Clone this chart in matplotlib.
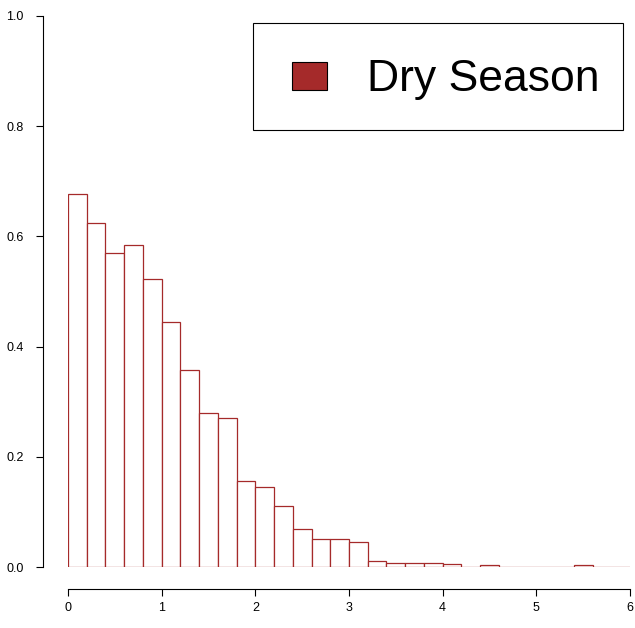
import numpy as np
import matplotlib
matplotlib.use("Agg")
import matplotlib.pyplot as plt
from matplotlib.patches import Patch, Rectangle
from matplotlib.legend_handler import HandlerPatch

plt.rcParams['font.family'] = ['Liberation Sans', 'DejaVu Sans']

# histogram of the dry season, bins of width 0.2 from 0 to 6
bin_edges = np.round(np.arange(0, 6.01, 0.2), 2)
density = [0.677, 0.624, 0.570, 0.584, 0.523, 0.445, 0.358, 0.279, 0.270, 0.156,
           0.145, 0.111, 0.069, 0.051, 0.051, 0.045, 0.011, 0.007, 0.007, 0.007,
           0.005, 0.0, 0.003, 0.0, 0.0, 0.0, 0.0, 0.003, 0.0, 0.0]
x_ticks = [0, 1, 2, 3, 4, 5, 6]
y_ticks = [0.0, 0.2, 0.4, 0.6, 0.8, 1.0]
label = "Dry Season"
color = "#A52A2A"

W, H = 635, 628
fig = plt.figure(figsize=(W / 100, H / 100), dpi=100)
ax = fig.add_axes([68 / W, 61 / H, 562 / W, 551 / H])

ax.bar(bin_edges[:-1], density, width=0.2, align='edge',
       facecolor='white', edgecolor=color, linewidth=0.9)

ax.set_xlim(0, 6)
ax.set_ylim(0, 1)
ax.set_xticks(x_ticks)
ax.set_xticklabels([str(t) for t in x_ticks])
ax.set_yticks(y_ticks)
ax.set_yticklabels([f"{t:.1f}" for t in y_ticks], rotation=90, va='center')

for s in ['top', 'right']:
    ax.spines[s].set_visible(False)
ax.spines['bottom'].set_position(('outward', 16))
ax.spines['left'].set_position(('outward', 18))
ax.spines['bottom'].set_bounds(0, 6)
ax.spines['left'].set_bounds(0, 1)
for s in ['bottom', 'left']:
    ax.spines[s].set_linewidth(0.8)
ax.tick_params(axis='both', length=5, width=0.8, labelsize=9, color='black')
ax.tick_params(axis='x', pad=4)
ax.tick_params(axis='y', pad=9)


# small square sitting at the right of a wider handle box, like R's legend
def square(legend, orig_handle, xdescent, ydescent, width, height, fontsize):
    pw, ph = 0.79 * fontsize, 0.63 * fontsize
    return Rectangle((-xdescent + width - pw, -ydescent + (height - ph) / 2), pw, ph)


handle = Patch(facecolor=color, edgecolor='black', linewidth=0.8)
leg = ax.legend([handle], [label], loc='upper right',
                bbox_to_anchor=(623 / W, 1 - 23 / H), bbox_transform=fig.transFigure,
                fontsize=32, frameon=True, fancybox=False, framealpha=1,
                edgecolor='black', borderpad=0.52, handlelength=1.15,
                handleheight=1.71, handletextpad=0.9, borderaxespad=0,
                handler_map={Patch: HandlerPatch(patch_func=square)})
leg.get_frame().set_linewidth(0.8)

fig.savefig("out.png", dpi=100)
